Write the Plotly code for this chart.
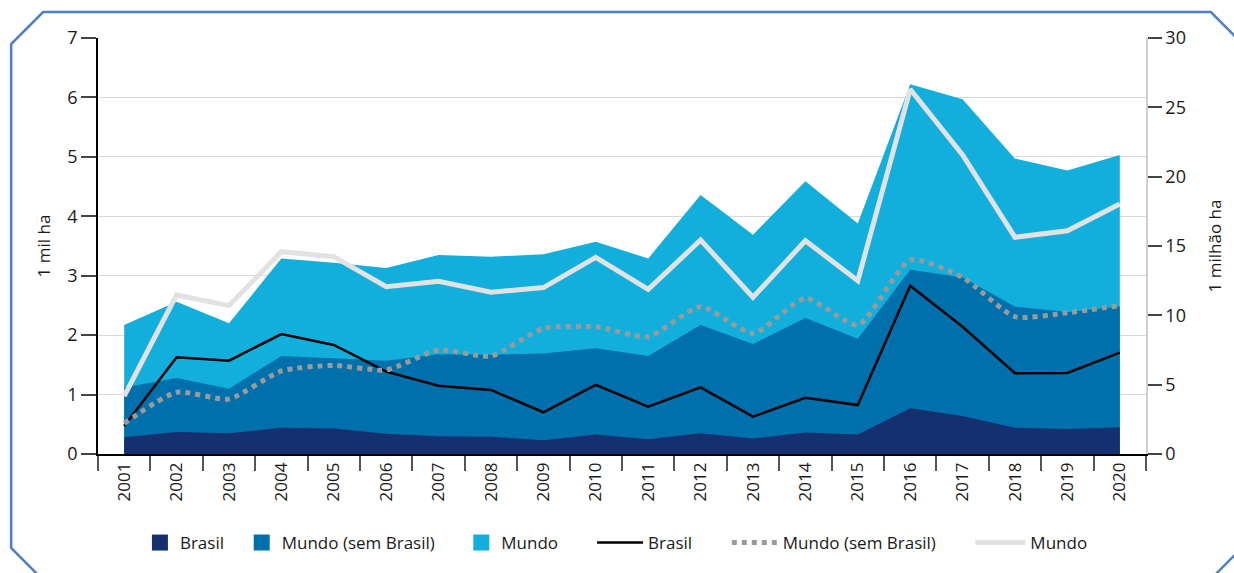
import plotly.graph_objects as go

years = [str(y) for y in range(2001, 2021)]

# Areas (left axis, 1 mil ha)
area_brasil = [0.28, 0.37, 0.35, 0.44, 0.43, 0.34, 0.30, 0.29, 0.23, 0.33,
               0.25, 0.35, 0.26, 0.36, 0.33, 0.77, 0.64, 0.44, 0.42, 0.45]
area_mundo_sem = [1.12, 1.28, 1.10, 1.65, 1.61, 1.57, 1.68, 1.67, 1.69, 1.78,
                  1.65, 2.17, 1.85, 2.29, 1.94, 3.10, 2.97, 2.48, 2.39, 2.48]
area_mundo = [2.17, 2.56, 2.20, 3.29, 3.22, 3.13, 3.35, 3.32, 3.36, 3.57,
              3.29, 4.36, 3.69, 4.59, 3.88, 6.22, 5.97, 4.97, 4.77, 5.03]

# Lines (right axis, 1 milhão ha)
line_brasil = [2.02, 6.97, 6.73, 8.65, 7.86, 5.94, 4.93, 4.62, 3.01, 4.98,
               3.41, 4.81, 2.69, 4.06, 3.53, 12.14, 9.18, 5.82, 5.85, 7.31]
line_mundo_sem = [2.21, 4.45, 3.97, 5.99, 6.39, 6.06, 7.50, 7.07, 9.06, 9.18,
                  8.46, 10.62, 8.70, 11.23, 9.30, 13.99, 12.74, 9.90, 10.19, 10.70]
line_mundo = [4.18, 11.47, 10.70, 14.59, 14.23, 12.07, 12.45, 11.66, 12.00, 14.18,
              11.87, 15.43, 11.30, 15.38, 12.50, 26.30, 21.56, 15.63, 16.10, 18.03]

left_ticks = [0, 1, 2, 3, 4, 5, 6, 7]
right_ticks = [0, 5, 10, 15, 20, 25, 30]

C_DARK = "#14306e"
C_MED = "#0070ad"
C_LIGHT = "#12aedc"

# plot area in pixels: x 98..1148, y 38..454
L, R, T, B = 98, 1148, 38, 454
W, H = R - L, B - T


def px(x):
    return (x - L) / W


def py(y):
    return (B - y) / H


fig = go.Figure()

# area fills (legend handled by marker entries below)
fig.add_trace(go.Scatter(x=years, y=area_mundo, name="Mundo", mode="none",
                         fill="tozeroy", fillcolor=C_LIGHT, showlegend=False))
fig.add_trace(go.Scatter(x=years, y=area_mundo_sem, name="Mundo (sem Brasil)", mode="none",
                         fill="tozeroy", fillcolor=C_MED, showlegend=False))
fig.add_trace(go.Scatter(x=years, y=area_brasil, name="Brasil", mode="none",
                         fill="tozeroy", fillcolor=C_DARK, showlegend=False))

fig.add_trace(go.Scatter(x=years, y=line_mundo, name="Mundo", mode="lines",
                         line=dict(color="#e2e2e2", width=5), yaxis="y2", legend="legend6"))
fig.add_trace(go.Scatter(x=years, y=line_brasil, name="Brasil", mode="lines",
                         line=dict(color="#000000", width=2.5), yaxis="y2", legend="legend4"))
fig.add_trace(go.Scatter(x=years, y=line_mundo_sem, name="Mundo (sem Brasil)", mode="lines",
                         line=dict(color="#9a9a9a", width=5, dash="dot", shape="spline",
                                   smoothing=0.6),
                         yaxis="y2", legend="legend5"))

# legend entries for the areas
for nm, col, lg in [("Brasil", C_DARK, "legend"), ("Mundo (sem Brasil)", C_MED, "legend2"),
                    ("Mundo", C_LIGHT, "legend3")]:
    fig.add_trace(go.Scatter(x=[None], y=[None], name=nm, mode="markers",
                             marker=dict(symbol="square", size=16, color=col),
                             legend=lg, showlegend=True))

leg_y = py(543)
leg_common = dict(orientation="h", y=leg_y, yanchor="middle", xanchor="left",
                  font=dict(size=17), bgcolor="rgba(0,0,0,0)", borderwidth=0)
# text start pixel positions from the reference
text_starts = {"legend": 172, "legend2": 274, "legend3": 494,
               "legend4": 651, "legend5": 786, "legend6": 1034}
item_w = {"legend": 30, "legend2": 30, "legend3": 30,
          "legend4": 46, "legend5": 46, "legend6": 50}

frame_pts = [(43, 12), (1213, 12), (1250, 49), (1250, 542), (1215, 577),
             (40, 577), (11, 548), (11, 44)]
path = "M " + " L ".join(f"{px(a):.5f},{py(b):.5f}" for a, b in frame_pts) + " Z"

layout_legends = {}
for k, ts in text_starts.items():
    iw = item_w[k]
    offset = iw + 10 + 2  # approx text offset from legend left edge
    if k in ("legend", "legend2", "legend3"):
        offset = 40 - 8
    layout_legends[k] = dict(leg_common, x=px(ts - offset), itemwidth=iw)

fig.update_layout(
    width=1234, height=573,
    margin=dict(l=L, r=1234 - R, t=T, b=573 - B),
    paper_bgcolor="white", plot_bgcolor="white",
    font=dict(family="Open Sans", size=17, color="#1a1a1a"),
    showlegend=True,
    xaxis=dict(type="category", range=[-0.5, 19.5], tickson="boundaries",
               ticks="outside", ticklen=15, tickcolor="#555", tickwidth=1.5,
               showline=True, linecolor="#000", linewidth=1.5,
               showgrid=False, tickangle=-90, tickfont=dict(size=17)),
    yaxis=dict(range=[0, 7], tickvals=left_ticks, ticks="outside", ticklen=15,
               tickcolor="#444", tickwidth=1.5, showline=True, linecolor="#000",
               linewidth=1.5, showgrid=True, gridcolor="#d9d9d9", gridwidth=1,
               zeroline=False, tickfont=dict(size=18),
               title=dict(text="1 mil ha", standoff=12, font=dict(size=17))),
    yaxis2=dict(range=[0, 30], tickvals=right_ticks, overlaying="y", side="right",
                ticks="outside", ticklen=14, tickcolor="#444", tickwidth=1.5,
                showline=True, linecolor="#d0d0d0", linewidth=1.5, showgrid=False,
                zeroline=False, tickfont=dict(size=18),
                title=dict(text="1 milhão ha", standoff=24, font=dict(size=17))),
    shapes=[dict(type="path", path=path, xref="paper", yref="paper",
                 line=dict(color="#4f7fc6", width=2.5), layer="below")],
    **layout_legends,
)

fig.write_html("out.html", config={"displayModeBar": False},
               post_script="document.body.style.margin='0';document.body.style.padding='0';")
